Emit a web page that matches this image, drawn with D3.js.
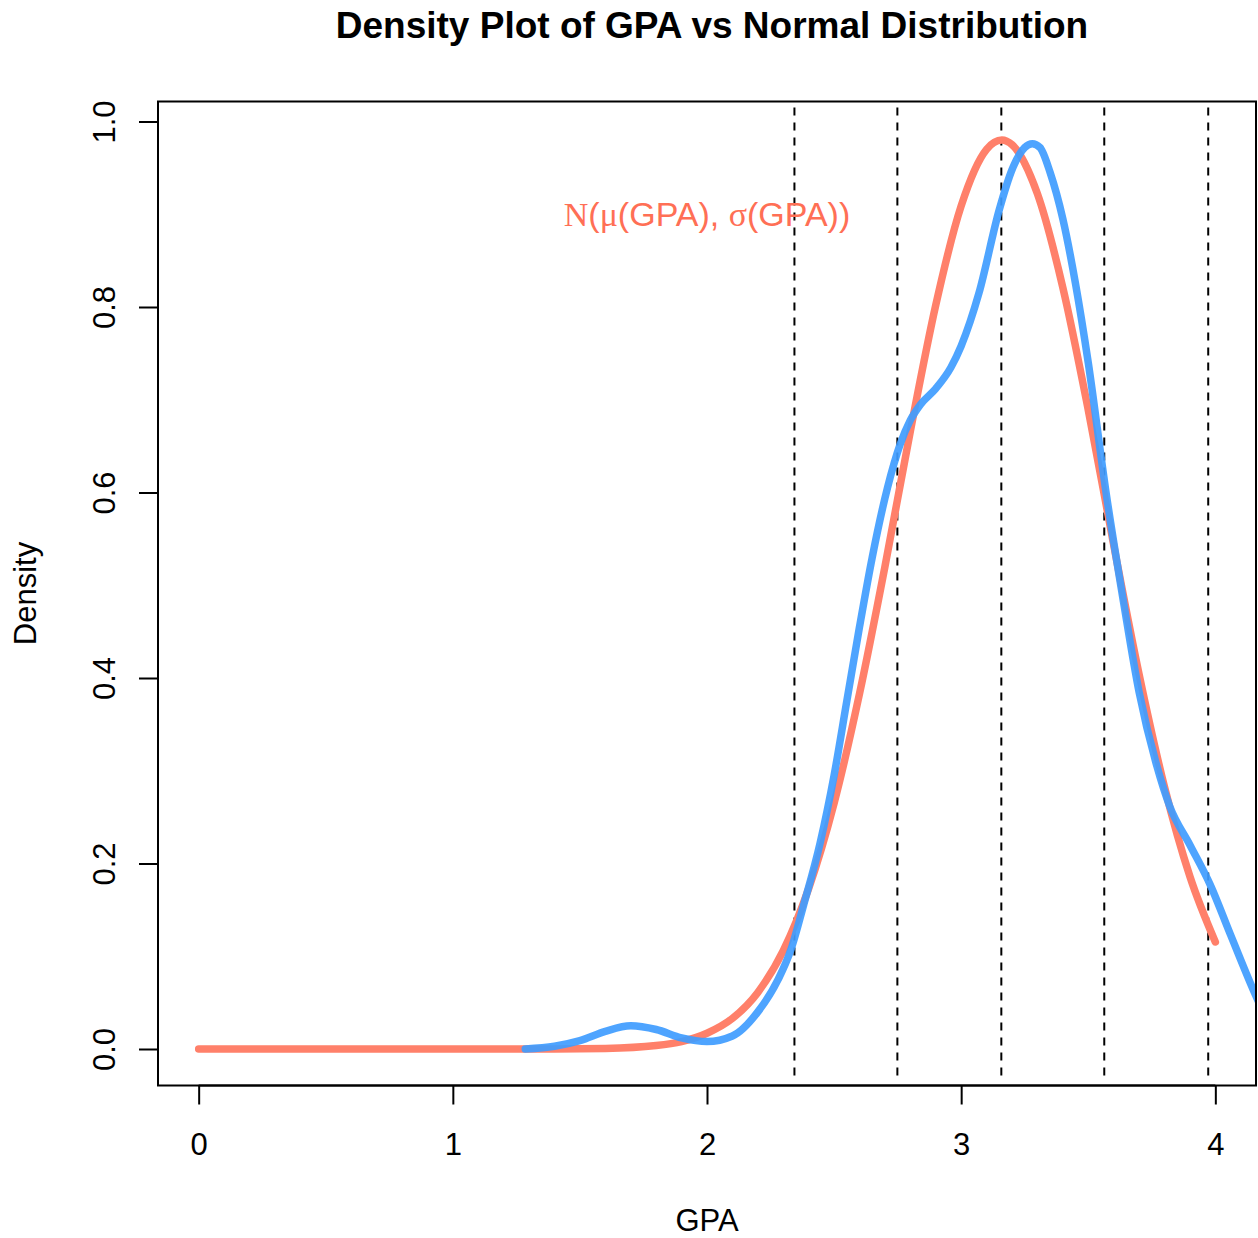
<!DOCTYPE html>
<html>
<head>
<meta charset="utf-8">
<script src="https://cdn.jsdelivr.net/npm/d3@7"></script>
<style>
  body { margin: 0; background: #fff; }
  text { font-family: "Liberation Sans", Arial, sans-serif; fill: #000; }
</style>
</head>
<body>
<div id="chart"></div>
<script>
// tick labels
var xTicks = [0, 1, 2, 3, 4];
var yTicks = [0, 0.2, 0.4, 0.6, 0.8, 1.0];

// normal curve N(mean, sd)
var normX = [0, 0.5, 1.0, 1.4, 1.6, 1.8, 1.9, 2.0, 2.1, 2.2, 2.3, 2.4, 2.5, 2.6, 2.7, 2.8, 2.9, 3.0, 3.1, 3.16, 3.2, 3.3, 3.4, 3.5, 3.6, 3.7, 3.8, 3.9, 4.0];
var normY = [0, 0, 0, 0.0001, 0.0006, 0.0037, 0.008, 0.017, 0.033, 0.061, 0.106, 0.173, 0.265, 0.383, 0.52, 0.666, 0.802, 0.909, 0.97, 0.98, 0.975, 0.922, 0.821, 0.689, 0.5435, 0.404, 0.2825, 0.186, 0.1154];

// kernel density of GPA
var densX = [1.285, 1.4, 1.5, 1.6, 1.7, 1.8, 1.9, 2.0, 2.1, 2.2, 2.28, 2.33, 2.38, 2.445, 2.5, 2.55, 2.6, 2.65, 2.71, 2.76, 2.8, 2.84, 2.9, 2.96, 3.0, 3.07, 3.15, 3.2, 3.25, 3.28, 3.31, 3.35, 3.4, 3.45, 3.5, 3.57, 3.64, 3.7, 3.77, 3.82, 3.9, 3.98, 4.06, 4.155, 4.25];
var densY = [0, 0.003, 0.009, 0.019, 0.025, 0.021, 0.012, 0.008, 0.014, 0.04, 0.075, 0.107, 0.155, 0.222, 0.295, 0.375, 0.455, 0.53, 0.605, 0.652, 0.678, 0.695, 0.712, 0.735, 0.758, 0.815, 0.905, 0.948, 0.972, 0.976, 0.972, 0.945, 0.895, 0.825, 0.74, 0.6, 0.48, 0.385, 0.305, 0.262, 0.22, 0.177, 0.123, 0.06, 0.005];

// mean and +-1, +-2 sd of GPA
var vLines = [2.344, 2.749, 3.158, 3.563, 3.972];

var W = 1258, H = 1238;
var box = {left: 158, right: 1256, top: 101.5, bottom: 1085.5};

var x = d3.scaleLinear().domain([-0.16, 4.16]).range([box.left, box.right]);
var y = d3.scaleLinear().domain([0, 1]).range([1049, 121.5]);

var svg = d3.select("#chart").append("svg")
    .attr("width", W)
    .attr("height", H);

svg.append("defs").append("clipPath").attr("id", "clip")
  .append("rect")
    .attr("x", box.left).attr("y", box.top)
    .attr("width", box.right - box.left).attr("height", box.bottom - box.top);

var plot = svg.append("g").attr("clip-path", "url(#clip)");

var line = d3.line()
    .x(function(d) { return x(d[0]); })
    .y(function(d) { return y(d[1]); })
    .curve(d3.curveMonotoneX);

// dashed reference lines
plot.selectAll(".vline").data(vLines).enter().append("line")
    .attr("x1", function(d) { return x(d); })
    .attr("x2", function(d) { return x(d); })
    .attr("y1", box.top + 6)
    .attr("y2", box.bottom - 6)
    .attr("stroke", "#000")
    .attr("stroke-width", 2)
    .attr("stroke-dasharray", "8,7");

plot.append("path")
    .datum(d3.zip(normX, normY))
    .attr("d", line)
    .attr("fill", "none")
    .attr("stroke", "#FF806A")
    .attr("stroke-width", 7.5)
    .attr("stroke-linecap", "round");

plot.append("path")
    .datum(d3.zip(densX, densY))
    .attr("d", line)
    .attr("fill", "none")
    .attr("stroke", "#3F9CFF")
    .attr("stroke-opacity", 0.92)
    .attr("stroke-width", 7.5)
    .attr("stroke-linecap", "round");

// box
svg.append("rect")
    .attr("x", box.left).attr("y", box.top)
    .attr("width", box.right - box.left).attr("height", box.bottom - box.top)
    .attr("fill", "none")
    .attr("stroke", "#000")
    .attr("stroke-width", 2);

// x axis
var xAxis = svg.append("g")
    .attr("transform", "translate(0," + box.bottom + ")")
    .call(d3.axisBottom(x).tickValues(xTicks).tickFormat(d3.format("d")).tickSize(19).tickPadding(28));
xAxis.select(".domain").remove();
xAxis.selectAll(".tick line").attr("stroke-width", 2);
xAxis.selectAll(".tick text").attr("font-size", 31).attr("font-family", "Liberation Sans, Arial, sans-serif");
xAxis.append("line")
    .attr("x1", x(0)).attr("x2", x(4))
    .attr("stroke", "#000").attr("stroke-width", 2);

// y axis
var yAxis = svg.append("g")
    .attr("transform", "translate(" + box.left + ",0)")
    .call(d3.axisLeft(y).tickValues(yTicks).tickFormat(d3.format(".1f")).tickSize(19));
yAxis.select(".domain").remove();
yAxis.selectAll(".tick line").attr("stroke-width", 2);
yAxis.selectAll(".tick text")
    .attr("font-size", 31)
    .attr("font-family", "Liberation Sans, Arial, sans-serif")
    .attr("x", null).attr("dy", null)
    .attr("text-anchor", "middle")
    .attr("transform", "translate(-43,0) rotate(-90)");
yAxis.append("line")
    .attr("y1", y(0)).attr("y2", y(1))
    .attr("stroke", "#000").attr("stroke-width", 2);

// titles
svg.append("text")
    .attr("x", (box.left + box.right) / 2 + 5)
    .attr("y", 38)
    .attr("text-anchor", "middle")
    .attr("font-size", 37)
    .attr("font-weight", "bold")
    .text("Density Plot of GPA vs Normal Distribution");

svg.append("text")
    .attr("x", (box.left + box.right) / 2)
    .attr("y", 1231)
    .attr("text-anchor", "middle")
    .attr("font-size", 31)
    .text("GPA");

svg.append("text")
    .attr("transform", "translate(36," + ((box.top + box.bottom) / 2) + ") rotate(-90)")
    .attr("text-anchor", "middle")
    .attr("font-size", 31)
    .text("Density");

// annotation
var note = svg.append("text")
    .attr("x", x(2))
    .attr("y", y(0.9) + 12)
    .attr("text-anchor", "middle")
    .attr("font-size", 34)
    .style("fill", "#FF6F55");
note.append("tspan").attr("font-family", "Liberation Serif, serif").text("N");
note.append("tspan").text("(");
note.append("tspan").attr("font-family", "Liberation Serif, serif").text("μ");
note.append("tspan").text("(GPA), ");
note.append("tspan").attr("font-family", "Liberation Serif, serif").text("σ");
note.append("tspan").text("(GPA))");
</script>
</body>
</html>
